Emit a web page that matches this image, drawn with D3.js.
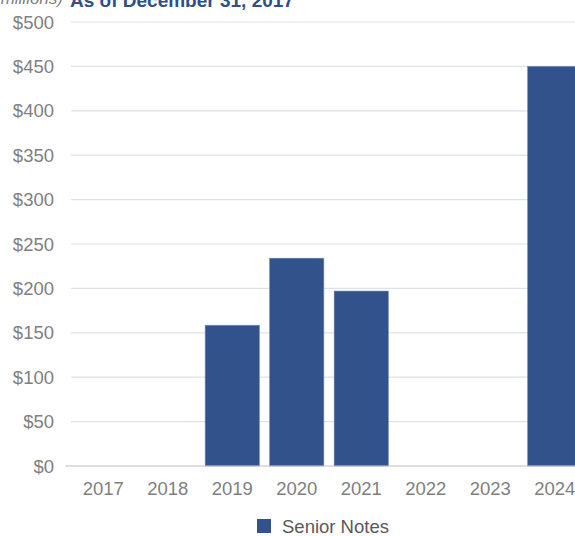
<!DOCTYPE html>
<html><head><meta charset="utf-8">
<script src="https://cdn.jsdelivr.net/npm/d3@7"></script>
<style>body{margin:0;background:#fff;overflow:hidden}svg{display:block}</style>
</head><body>
<script>
const categories = ["2017","2018","2019","2020","2021","2022","2023","2024"];
const seniorNotes = [0,0,158.5,234,197,0,0,450];
const yTicks = [0,50,100,150,200,250,300,350,400,450,500];

const W = 575, H = 536;
const svg = d3.select("body").append("svg").attr("width", W).attr("height", H);
const font = "Liberation Sans, Arial, sans-serif";
const fs = 18.5;

const x = d3.scaleBand().domain(categories).range([71, 587]).paddingInner(0.16).paddingOuter(0.08);
const y = d3.scaleLinear().domain([0, 500]).range([466, 22]);

// gridlines
svg.append("g").selectAll("line").data(yTicks.filter(d => d > 0)).join("line")
  .attr("x1", 71).attr("x2", W).attr("y1", d => y(d)).attr("y2", d => y(d))
  .attr("stroke", "#dde2ea").attr("stroke-width", 1.2);

// y labels
svg.append("g").selectAll("text").data(yTicks).join("text")
  .attr("x", 54).attr("y", d => y(d) + 6.5).attr("text-anchor", "end")
  .attr("font-family", font).attr("font-size", fs).attr("fill", "#808080")
  .text(d => "$" + d);

// bars
svg.append("g").selectAll("rect").data(categories.map((c, i) => ({c, v: seniorNotes[i]})).filter(d => d.v > 0)).join("rect")
  .attr("x", d => x(d.c)).attr("width", x.bandwidth())
  .attr("y", d => y(d.v)).attr("height", d => y(0) - y(d.v))
  .attr("fill", "#31528a").attr("stroke", "#6f86ad").attr("stroke-width", 0.6);

// baseline
svg.append("line").attr("x1", 65).attr("x2", W).attr("y1", y(0)).attr("y2", y(0))
  .attr("stroke", "#bfbfbf").attr("stroke-width", 1.2);

// x labels
svg.append("g").selectAll("text").data(categories).join("text")
  .attr("x", d => x(d) + x.bandwidth() / 2).attr("y", 495).attr("text-anchor", "middle")
  .attr("font-family", font).attr("font-size", fs).attr("fill", "#808080")
  .text(d => d);

// title (cropped at top)
svg.append("text").attr("x", 70).attr("y", 7)
  .attr("font-family", font).attr("font-size", 19).attr("font-weight", "bold").attr("fill", "#2f4f86")
  .text("As of December 31, 2017");
svg.append("text").attr("x", 63).attr("y", 4).attr("text-anchor", "end")
  .attr("font-family", font).attr("font-size", 17).attr("font-style", "italic").attr("fill", "#808080")
  .text("(in millions)");

// legend
svg.append("rect").attr("x", 257).attr("y", 519).attr("width", 14).attr("height", 14).attr("fill", "#31528a");
svg.append("text").attr("x", 282).attr("y", 533)
  .attr("font-family", font).attr("font-size", fs).attr("fill", "#595959")
  .text("Senior Notes");
</script>
</body></html>
